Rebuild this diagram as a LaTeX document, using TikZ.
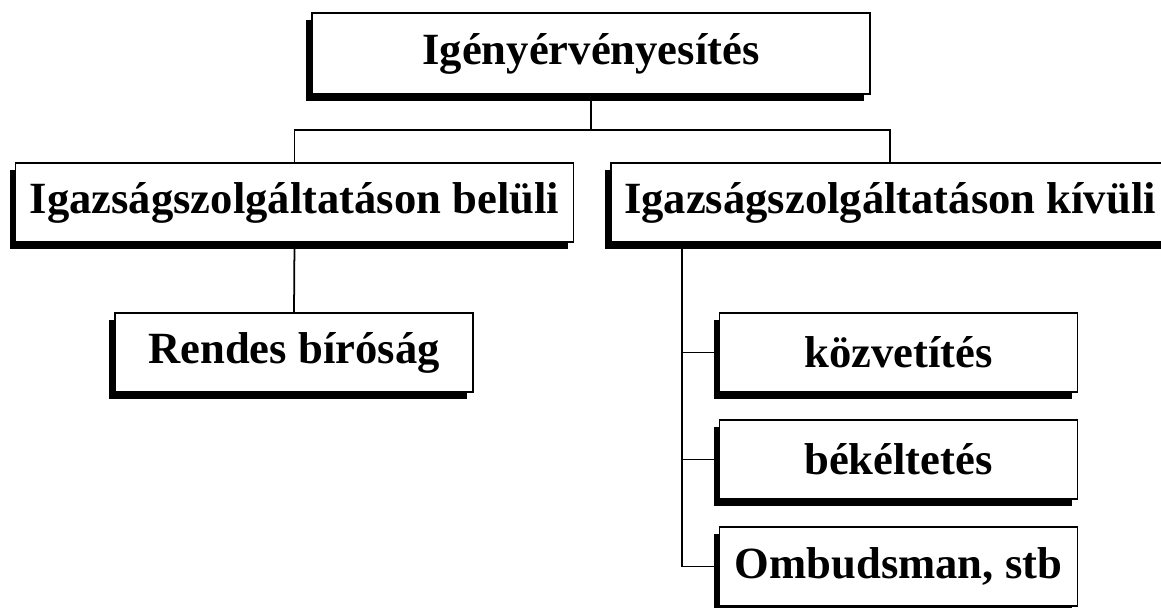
\documentclass[tikz,border=0pt]{standalone}
\usepackage{fontspec}
\setmainfont{Liberation Serif}
\usepackage{tikz}
\usetikzlibrary{shadows}
\tikzset{
    level/.style={draw, line width=1.1pt, fill=white, inner sep=0pt, minimum height=79*0.02cm,
        font=\fontsize{25.4}{30}\selectfont\bfseries,
        drop shadow={shadow xshift=-0.12cm, shadow yshift=-0.14cm, fill=black, opacity=1}},
    wide/.style={level, minimum width=558*0.02cm},
    narrow/.style={level, minimum width=358*0.02cm},
    link/.style={line width=1pt}
}

\begin{document}
\begin{tikzpicture}[x=0.02cm, y=-0.02cm]
\clip (0,0) rectangle (1161,608);
% Top
\node[wide, minimum height=81*0.02cm] (claim) at (591,53.5) {Igényérvényesítés};

% Second row
\node[wide] (inside) at (294.5,202.5) {Igazságszolgáltatáson belüli};
\node[wide] (outside) at (890,202.5) {Igazságszolgáltatáson kívüli};

% Leaves
\node[narrow] (court) at (294,352.5) {Rendes bíróság};
\node[narrow] (mediation) at (898.5,352.5) {közvetítés};
\node[narrow] (conciliation) at (898.5,459.5) {békéltetés};
\node[narrow] (ombudsman) at (898.5,566.5) {Ombudsman, stb};

% Connectors
\coordinate (split) at (591,130);
\coordinate (trunk) at (682,243);
\draw[link] (claim.south) -- (split);
\draw[link] (inside.north) -- (inside.north |- split) -- (outside.north |- split) -- (outside.north);
\draw[link] (inside.south) -- (court.north);
\draw[link] (trunk) |- (ombudsman.west);
\draw[link] (trunk |- mediation.west) -- (mediation.west);
\draw[link] (trunk |- conciliation.west) -- (conciliation.west);
\end{tikzpicture}
\end{document}
